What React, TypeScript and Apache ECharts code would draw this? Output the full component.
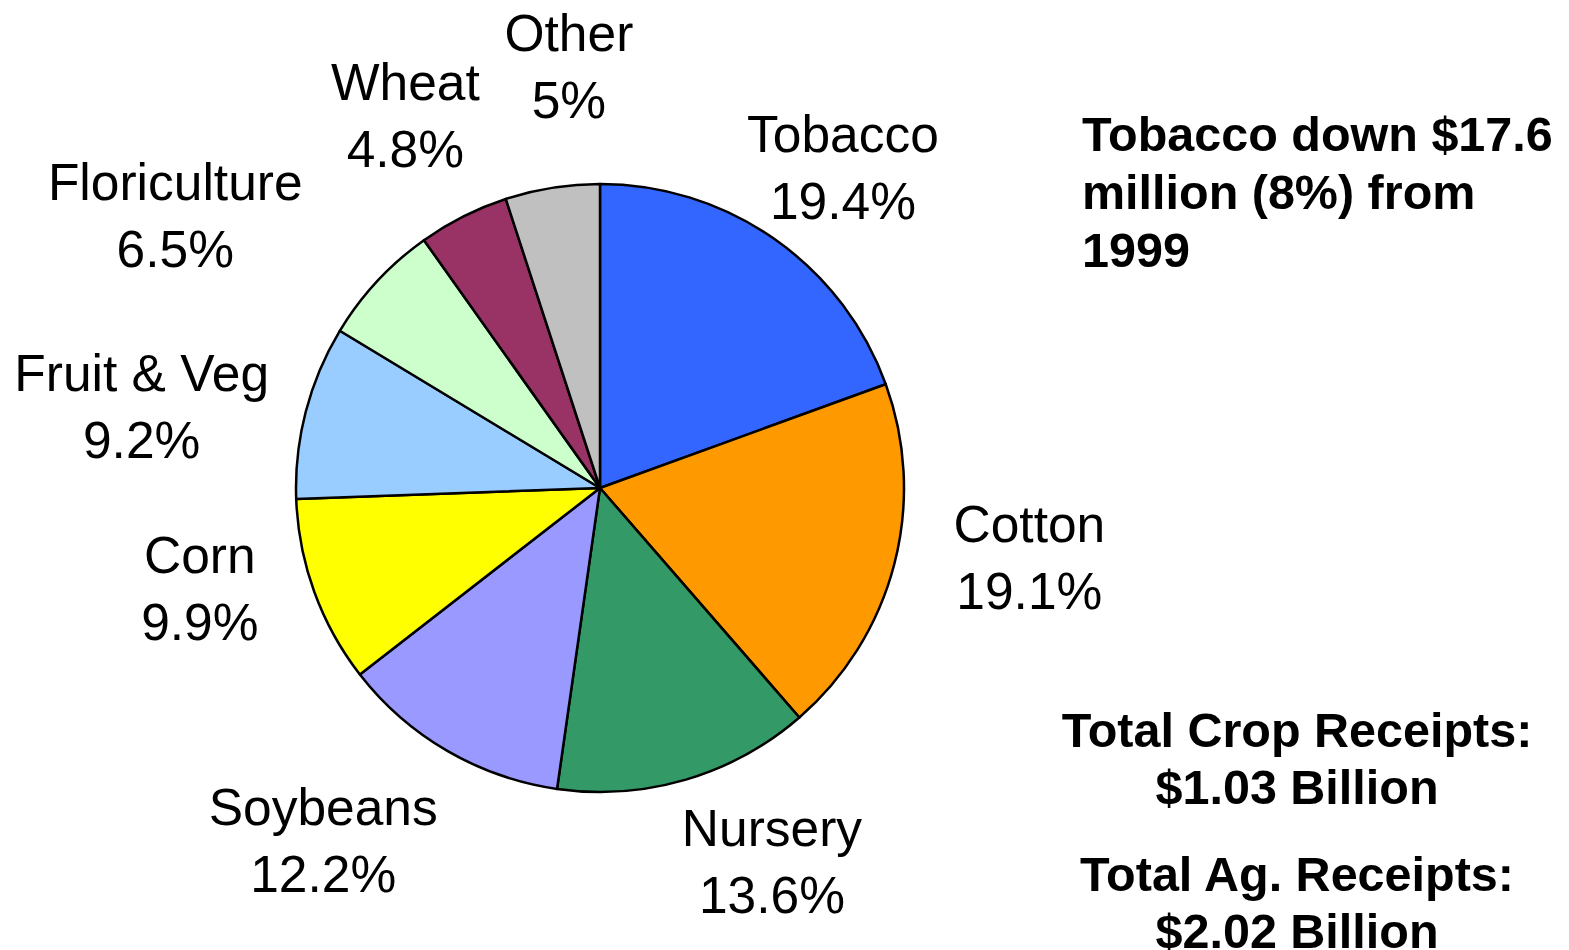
import React, { useEffect, useRef } from "react";
import * as echarts from "echarts";

// ---- data ----
const categories = [
  "Tobacco",
  "Cotton",
  "Nursery",
  "Soybeans",
  "Corn",
  "Fruit & Veg",
  "Floriculture",
  "Wheat",
  "Other",
];
const shares = [19.4, 19.1, 13.6, 12.2, 9.9, 9.2, 6.5, 4.8, 5];
const sliceColors = [
  "#3366FF",
  "#FF9900",
  "#339966",
  "#9999FF",
  "#FFFF00",
  "#99CCFF",
  "#CCFFCC",
  "#993366",
  "#C0C0C0",
];
const noteLines = ["Tobacco down $17.6", "million (8%) from", "1999"];
const cropTotalLines = ["Total Crop Receipts:", "$1.03 Billion"];
const agTotalLines = ["Total Ag. Receipts:", "$2.02 Billion"];

// ---- layout ----
const W = 1569;
const H = 950;
const CX = 600;
const CY = 488;
const R = 304;
const LABEL_R = R + 60;
// hand-placed label adjustments (relative to the slice's mid-angle point)
const labelNudge: [number, number][] = [
  [34, -22],
  [77, -22],
  [69, 24],
  [-94, 38],
  [-58, -24],
  [-106, 10],
  [-158, -25],
  [-31, -47],
  [26, -62],
];

const FONT = "'Liberation Sans', Arial, Helvetica, sans-serif";

export default function App() {
  const ref = useRef<HTMLDivElement>(null);

  useEffect(() => {
    if (!ref.current) return;
    const chart = echarts.init(ref.current, undefined, { renderer: "svg" });

    const total = shares.reduce((a, b) => a + b, 0);
    const midAngles: number[] = [];
    let acc = 0;
    shares.forEach((v) => {
      midAngles.push(((acc + v / 2) / total) * Math.PI * 2);
      acc += v;
    });

    chart.setOption({
      animation: false,
      backgroundColor: "#ffffff",
      series: [
        {
          type: "pie",
          center: [CX, CY],
          radius: R,
          startAngle: 90,
          clockwise: true,
          avoidLabelOverlap: false,
          silent: true,
          data: categories.map((name, i) => ({
            name,
            value: shares[i],
            itemStyle: { color: sliceColors[i] },
          })),
          itemStyle: { borderColor: "#000000", borderWidth: 2.5 },
          label: {
            show: true,
            position: "inside",
            formatter: (p: any) => `${p.name}\n${p.value}%`,
            fontFamily: FONT,
            fontSize: 51.5,
            lineHeight: 67,
            color: "#000000",
            align: "center",
            verticalAlign: "middle",
          },
          labelLine: { show: false },
          labelLayout: (params: any) => {
            const i = params.dataIndex;
            const a = midAngles[i];
            const x = CX + Math.sin(a) * LABEL_R + labelNudge[i][0];
            const y = CY - Math.cos(a) * LABEL_R + labelNudge[i][1];
            return { x, y, align: "center", verticalAlign: "middle" };
          },
          emphasis: { disabled: true },
        },
      ],
      graphic: [
        {
          type: "text",
          left: 1082,
          top: 191.5 - 87,
          style: {
            text: noteLines.join("\n"),
            font: `bold 48.5px ${FONT}`,
            lineHeight: 58,
            fill: "#000000",
            align: "left",
          },
        },
        {
          type: "text",
          x: 1297,
          y: 758.5,
          style: {
            text: cropTotalLines.join("\n"),
            font: `bold 48.5px ${FONT}`,
            lineHeight: 57,
            fill: "#000000",
            align: "center",
            verticalAlign: "middle",
          },
        },
        {
          type: "text",
          x: 1297,
          y: 902,
          style: {
            text: agTotalLines.join("\n"),
            font: `bold 48.5px ${FONT}`,
            lineHeight: 57,
            fill: "#000000",
            align: "center",
            verticalAlign: "middle",
          },
        },
      ],
    });

    return () => chart.dispose();
  }, []);

  return (
    <div
      ref={ref}
      style={{ position: "fixed", left: 0, top: 0, width: W, height: H, background: "#fff" }}
    />
  );
}
